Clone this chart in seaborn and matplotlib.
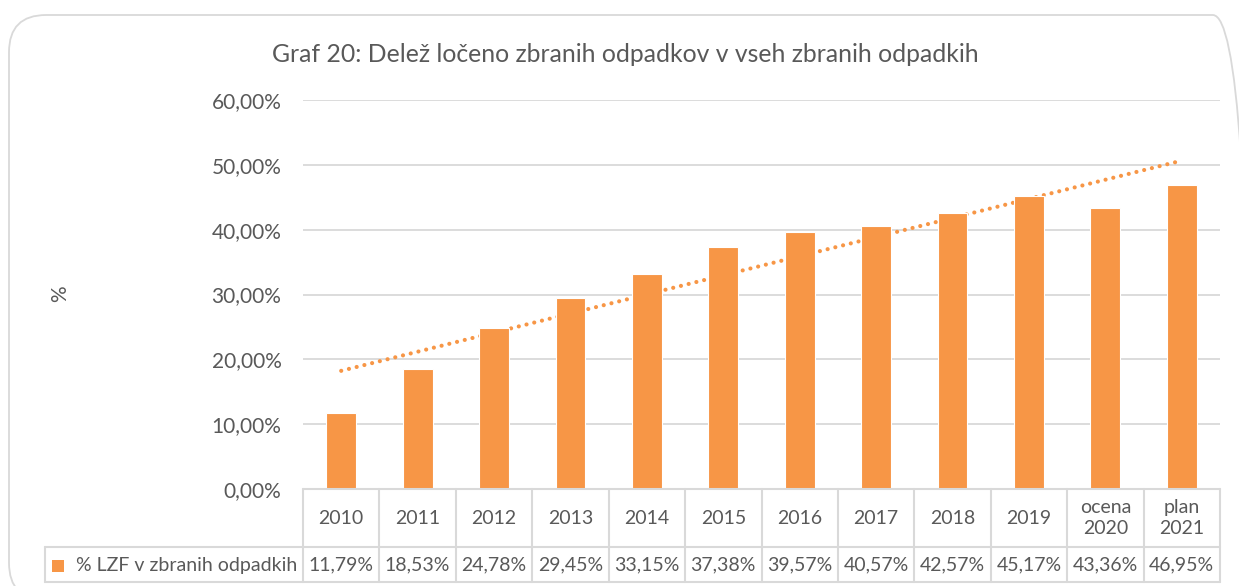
import numpy as np
import pandas as pd
import seaborn as sns
import matplotlib.pyplot as plt
from matplotlib.patches import FancyBboxPatch, Rectangle
from matplotlib.ticker import FuncFormatter

# data
years = ["2010", "2011", "2012", "2013", "2014", "2015", "2016", "2017",
         "2018", "2019", "ocena\n2020", "plan\n2021"]
share = [11.79, 18.53, 24.78, 29.45, 33.15, 37.38, 39.57, 40.57,
         42.57, 45.17, 43.36, 46.95]
series_name = "% LZF v zbranih odpadkih"
title = "Graf 20: Delež ločeno zbranih odpadkov v vseh zbranih odpadkih"

orange = "#F79646"
grey_txt = "#595959"
grid_c = "#D9D9D9"

sns.set_style("white")
plt.rcParams['font.family'] = ['Lato', 'DejaVu Sans']

W, H = 1239, 586
fig = plt.figure(figsize=(W / 100, H / 100), dpi=100)

def fx(p):
    return p / W

def fy(p):
    return 1 - p / H

# outer rounded frame
frame = FancyBboxPatch((fx(9), fy(600)), fx(1250) - fx(9), fy(15) - fy(600),
                       boxstyle="round,pad=0,rounding_size=0.03",
                       transform=fig.transFigure, facecolor="none",
                       edgecolor=grid_c, linewidth=1.3, mutation_aspect=W / H,
                       zorder=-10)
fig.patches.append(frame)

left, right, top, bottom = 303, 1220, 100, 489
ax = fig.add_axes([fx(left), fy(bottom), fx(right) - fx(left), fy(top) - fy(bottom)])
ax.set_facecolor("none")

df = pd.DataFrame({"year": years, "share": share})
pos = np.arange(len(years))

# linear trend line, behind bars
k, b = np.polyfit(pos, df["share"], 1)
ax.plot(pos, k * pos + b, color=orange, lw=3, linestyle=(0, (0.01, 1.9)),
        dash_capstyle="round", zorder=1)

sns.barplot(data=df, x="year", y="share", color=orange, saturation=1,
            width=0.39, edgecolor="white", linewidth=0.8, ax=ax, zorder=2)

ax.set_ylim(0, 60)
ax.set_xlim(-0.5, len(years) - 0.5)
ax.set_yticks(np.arange(0, 61, 10))
ax.yaxis.set_major_formatter(FuncFormatter(lambda v, p: f"{v:.2f}%".replace(".", ",")))
ax.tick_params(axis="y", labelsize=15, labelcolor=grey_txt, length=0, pad=15.5)
ax.set_xticks([])
ax.set_xlabel("")
ax.set_ylabel("")
ax.grid(axis="y", color=grid_c, lw=1.3, zorder=0)
ax.set_axisbelow(True)
sns.despine(ax=ax, left=True, bottom=True)

fig.text(fx(625), fy(55), title, ha="center", va="center", fontsize=17.8, color=grey_txt)
fig.text(fx(60), fy(294), "%", ha="center", va="center", rotation=90,
         fontsize=15, color=grey_txt)

# data table below the axis
hdr_bot = 547
tab_bot = 582
col_w = (right - left) / len(years)
line_kw = dict(color=grid_c, lw=1.5, transform=fig.transFigure, clip_on=False)
fig.add_artist(plt.Line2D([fx(left), fx(right)], [fy(bottom), fy(bottom)], **line_kw))
fig.add_artist(plt.Line2D([fx(45), fx(right)], [fy(hdr_bot), fy(hdr_bot)], **line_kw))
fig.add_artist(plt.Line2D([fx(45), fx(right)], [fy(tab_bot), fy(tab_bot)], **line_kw))
fig.add_artist(plt.Line2D([fx(45), fx(45)], [fy(hdr_bot), fy(tab_bot)], **line_kw))
for i in range(len(years) + 1):
    xc = left + i * col_w
    fig.add_artist(plt.Line2D([fx(xc), fx(xc)], [fy(bottom), fy(tab_bot)], **line_kw))

for i, (yr, val) in enumerate(zip(years, share)):
    xc = left + (i + 0.5) * col_w
    fig.text(fx(xc), fy(518), yr, ha="center", va="center", fontsize=14,
             color=grey_txt, linespacing=1.35)
    fig.text(fx(xc), fy(565), f"{val:.2f}%".replace(".", ","), ha="center",
             va="center", fontsize=14, color=grey_txt)

fig.add_artist(Rectangle((fx(52), fy(572)), fx(12), fy(560) - fy(572),
                         transform=fig.transFigure, facecolor=orange,
                         edgecolor="none", zorder=5))
fig.text(fx(76), fy(565), series_name, ha="left", va="center", fontsize=14, color=grey_txt)

fig.savefig("out.png", dpi=100)
